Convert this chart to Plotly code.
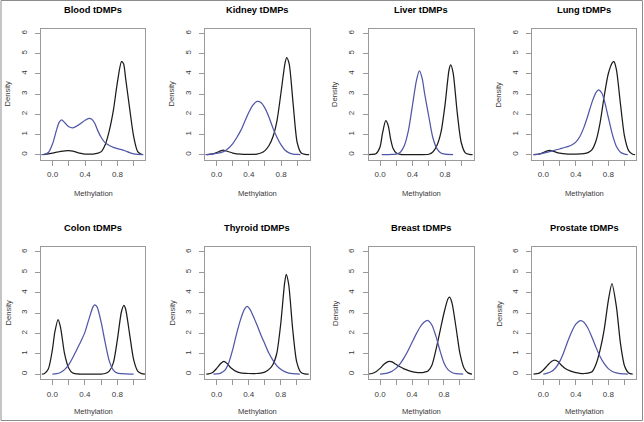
import plotly.graph_objects as go

W, H = 644, 422

panel_titles = ["Blood tDMPs", "Kidney tDMPs", "Liver tDMPs", "Lung tDMPs",
                "Colon tDMPs", "Thyroid tDMPs", "Breast tDMPs", "Prostate tDMPs"]
x_axis_title = "Methylation"
y_axis_title = "Density"
x_tick_vals = [0.0, 0.2, 0.4, 0.6, 0.8, 1.0]
x_tick_text = ["0.0", "", "0.4", "", "0.8", ""]
y_tick_vals = [0, 1, 2, 3, 4, 5, 6]
y_tick_text = ["0", "1", "2", "3", "4", "5", "6"]

# ---- Blood ----
blood_black_x = [-0.12, -0.08, -0.04, 0.0, 0.05, 0.10, 0.15, 0.20, 0.25, 0.30, 0.35, 0.40, 0.45, 0.50, 0.55, 0.60, 0.65, 0.70, 0.75, 0.80, 0.85, 0.875, 0.90, 0.95, 1.00, 1.05, 1.10]
blood_black_y = [0.0, 0.02, 0.05, 0.08, 0.12, 0.16, 0.19, 0.20, 0.17, 0.11, 0.06, 0.03, 0.03, 0.03, 0.06, 0.15, 0.50, 1.20, 2.20, 3.60, 4.60, 4.50, 3.80, 2.30, 0.90, 0.15, 0.01]
blood_blue_x = [-0.14, -0.10, -0.05, 0.0, 0.05, 0.08, 0.11, 0.15, 0.20, 0.25, 0.30, 0.35, 0.40, 0.45, 0.48, 0.52, 0.55, 0.60, 0.65, 0.70, 0.75, 0.80, 0.85, 0.90, 0.95, 1.00, 1.05, 1.12]
blood_blue_y = [0.0, 0.02, 0.12, 0.55, 1.25, 1.60, 1.72, 1.58, 1.38, 1.33, 1.42, 1.55, 1.70, 1.80, 1.76, 1.55, 1.25, 0.85, 0.58, 0.45, 0.36, 0.30, 0.25, 0.18, 0.10, 0.04, 0.01, 0.0]

# ---- Kidney ----
kidney_black_x = [-0.12, -0.05, 0.0, 0.05, 0.08, 0.12, 0.20, 0.30, 0.40, 0.50, 0.55, 0.60, 0.65, 0.70, 0.75, 0.80, 0.85, 0.87, 0.90, 0.95, 1.00, 1.05, 1.10, 1.15]
kidney_black_y = [0.0, 0.04, 0.10, 0.19, 0.22, 0.18, 0.08, 0.02, 0.01, 0.03, 0.08, 0.20, 0.45, 0.90, 1.70, 3.10, 4.55, 4.80, 4.50, 2.50, 0.60, 0.08, 0.01, 0.0]
kidney_blue_x = [-0.14, -0.05, 0.0, 0.05, 0.10, 0.15, 0.20, 0.25, 0.30, 0.35, 0.40, 0.45, 0.50, 0.55, 0.60, 0.65, 0.70, 0.75, 0.80, 0.85, 0.90, 0.95, 1.00, 1.04]
kidney_blue_y = [0.0, 0.03, 0.06, 0.10, 0.18, 0.33, 0.55, 0.85, 1.20, 1.65, 2.10, 2.45, 2.63, 2.58, 2.30, 1.85, 1.30, 0.85, 0.48, 0.22, 0.09, 0.03, 0.01, 0.0]

# ---- Liver ----
liver_black_x = [-0.14, -0.10, -0.05, 0.0, 0.03, 0.07, 0.10, 0.13, 0.16, 0.20, 0.25, 0.30, 0.40, 0.50, 0.60, 0.65, 0.70, 0.75, 0.80, 0.85, 0.87, 0.90, 0.95, 1.00, 1.05, 1.10, 1.14]
liver_black_y = [0.0, 0.01, 0.05, 0.38, 1.05, 1.68, 1.45, 0.78, 0.32, 0.08, 0.01, 0.0, 0.0, 0.0, 0.02, 0.13, 0.45, 1.10, 2.45, 4.20, 4.44, 4.05, 2.10, 0.60, 0.09, 0.01, 0.0]
liver_blue_x = [0.02, 0.10, 0.15, 0.20, 0.25, 0.30, 0.35, 0.40, 0.45, 0.485, 0.52, 0.55, 0.60, 0.65, 0.70, 0.75, 0.80, 0.90]
liver_blue_y = [0.0, 0.0, 0.01, 0.03, 0.12, 0.45, 1.20, 2.45, 3.70, 4.14, 3.75, 3.00, 1.90, 0.85, 0.30, 0.08, 0.02, 0.0]

# ---- Lung ----
lung_black_x = [-0.12, -0.05, 0.0, 0.05, 0.08, 0.12, 0.20, 0.30, 0.40, 0.50, 0.55, 0.60, 0.65, 0.70, 0.75, 0.80, 0.85, 0.87, 0.90, 0.95, 1.00, 1.05, 1.10, 1.13]
lung_black_y = [0.0, 0.03, 0.10, 0.19, 0.21, 0.17, 0.07, 0.03, 0.03, 0.05, 0.10, 0.25, 0.70, 1.60, 2.90, 4.00, 4.55, 4.60, 4.20, 2.50, 0.90, 0.20, 0.02, 0.0]
lung_blue_x = [-0.12, -0.05, 0.0, 0.05, 0.10, 0.15, 0.20, 0.25, 0.30, 0.35, 0.40, 0.45, 0.50, 0.55, 0.60, 0.65, 0.68, 0.72, 0.75, 0.80, 0.85, 0.90, 0.95, 1.00, 1.04]
lung_blue_y = [0.0, 0.03, 0.07, 0.12, 0.17, 0.23, 0.28, 0.34, 0.40, 0.48, 0.62, 0.90, 1.35, 1.95, 2.60, 3.08, 3.20, 3.05, 2.70, 1.85, 1.00, 0.40, 0.12, 0.03, 0.0]

# ---- Colon ----
colon_black_x = [-0.13, -0.10, -0.05, 0.0, 0.03, 0.07, 0.10, 0.15, 0.20, 0.25, 0.30, 0.40, 0.50, 0.60, 0.65, 0.70, 0.75, 0.80, 0.85, 0.88, 0.90, 0.95, 1.00, 1.05, 1.10, 1.14]
colon_black_y = [0.0, 0.02, 0.25, 1.19, 2.06, 2.68, 2.31, 1.00, 0.30, 0.05, 0.01, 0.0, 0.0, 0.0, 0.03, 0.15, 0.55, 1.69, 3.06, 3.37, 3.22, 1.98, 0.71, 0.15, 0.02, 0.0]
colon_blue_x = [0.0, 0.05, 0.10, 0.15, 0.20, 0.25, 0.30, 0.35, 0.40, 0.45, 0.50, 0.52, 0.55, 0.60, 0.65, 0.70, 0.75, 0.80, 0.85, 0.90, 1.00]
colon_blue_y = [0.0, 0.02, 0.08, 0.22, 0.45, 0.80, 1.20, 1.60, 2.05, 2.70, 3.30, 3.40, 3.30, 2.55, 1.55, 0.65, 0.20, 0.05, 0.02, 0.01, 0.0]

# ---- Thyroid ----
thyroid_black_x = [-0.13, -0.10, -0.05, 0.0, 0.05, 0.09, 0.13, 0.18, 0.25, 0.30, 0.40, 0.50, 0.55, 0.60, 0.65, 0.70, 0.75, 0.80, 0.85, 0.87, 0.90, 0.95, 1.00, 1.05, 1.10, 1.15]
thyroid_black_y = [0.0, 0.01, 0.08, 0.28, 0.52, 0.63, 0.52, 0.30, 0.12, 0.06, 0.03, 0.03, 0.05, 0.10, 0.22, 0.45, 1.00, 2.45, 4.50, 4.90, 4.40, 2.20, 0.60, 0.10, 0.01, 0.0]
thyroid_blue_x = [-0.04, 0.0, 0.05, 0.10, 0.15, 0.20, 0.25, 0.30, 0.35, 0.38, 0.42, 0.45, 0.50, 0.55, 0.60, 0.65, 0.70, 0.75, 0.80, 0.85, 0.90, 0.95, 1.00, 1.04]
thyroid_blue_y = [0.0, 0.01, 0.05, 0.18, 0.55, 1.20, 2.00, 2.70, 3.20, 3.32, 3.15, 2.90, 2.45, 1.95, 1.50, 1.05, 0.70, 0.42, 0.24, 0.12, 0.05, 0.02, 0.01, 0.0]

# ---- Breast ----
breast_black_x = [-0.15, -0.10, -0.05, 0.0, 0.05, 0.10, 0.125, 0.15, 0.20, 0.25, 0.30, 0.35, 0.40, 0.45, 0.50, 0.55, 0.60, 0.65, 0.70, 0.75, 0.80, 0.85, 0.87, 0.90, 0.95, 1.00, 1.05, 1.10, 1.15]
breast_black_y = [0.0, 0.03, 0.12, 0.28, 0.48, 0.61, 0.63, 0.60, 0.48, 0.36, 0.26, 0.18, 0.12, 0.08, 0.07, 0.09, 0.15, 0.45, 1.20, 2.10, 3.00, 3.70, 3.78, 3.50, 2.30, 1.00, 0.30, 0.06, 0.0]
breast_blue_x = [0.0, 0.05, 0.10, 0.15, 0.20, 0.25, 0.30, 0.35, 0.40, 0.45, 0.50, 0.55, 0.60, 0.65, 0.70, 0.75, 0.80, 0.85, 0.90, 0.95, 1.00, 1.04]
breast_blue_y = [0.0, 0.02, 0.06, 0.14, 0.28, 0.50, 0.80, 1.15, 1.55, 1.95, 2.30, 2.55, 2.63, 2.40, 1.85, 1.15, 0.55, 0.22, 0.08, 0.02, 0.01, 0.0]

# ---- Prostate ----
prostate_black_x = [-0.12, -0.05, 0.0, 0.05, 0.10, 0.14, 0.18, 0.22, 0.27, 0.33, 0.40, 0.45, 0.50, 0.55, 0.60, 0.65, 0.70, 0.75, 0.80, 0.845, 0.90, 0.95, 1.00, 1.05, 1.10]
prostate_black_y = [0.0, 0.05, 0.20, 0.42, 0.62, 0.69, 0.62, 0.45, 0.28, 0.16, 0.07, 0.04, 0.03, 0.05, 0.12, 0.50, 1.20, 2.20, 3.60, 4.44, 3.30, 1.50, 0.40, 0.06, 0.0]
prostate_blue_x = [0.0, 0.05, 0.10, 0.15, 0.20, 0.25, 0.30, 0.35, 0.40, 0.46, 0.50, 0.55, 0.60, 0.65, 0.70, 0.75, 0.80, 0.85, 0.90, 0.95, 1.00, 1.04]
prostate_blue_y = [0.0, 0.05, 0.13, 0.30, 0.60, 1.05, 1.60, 2.08, 2.45, 2.63, 2.55, 2.25, 1.80, 1.30, 0.85, 0.51, 0.27, 0.13, 0.06, 0.02, 0.01, 0.0]

black_series = [(blood_black_x, blood_black_y), (kidney_black_x, kidney_black_y),
                (liver_black_x, liver_black_y), (lung_black_x, lung_black_y),
                (colon_black_x, colon_black_y), (thyroid_black_x, thyroid_black_y),
                (breast_black_x, breast_black_y), (prostate_black_x, prostate_black_y)]
blue_series = [(blood_blue_x, blood_blue_y), (kidney_blue_x, kidney_blue_y),
               (liver_blue_x, liver_blue_y), (lung_blue_x, lung_blue_y),
               (colon_blue_x, colon_blue_y), (thyroid_blue_x, thyroid_blue_y),
               (breast_blue_x, breast_blue_y), (prostate_blue_x, prostate_blue_y)]

# ---- layout (pixel geometry) ----
col_px = [(41, 145), (205, 309.5), (368.5, 473.5), (532, 636)]
row_px = [(28.5, 159.5), (247, 379)]
x_ranges = [(-0.144, 1.14), (-0.145, 1.153), (-0.142, 1.151), (-0.139, 1.141),
            (-0.14, 1.14), (-0.146, 1.16), (-0.144, 1.169), (-0.139, 1.141)]
y_range = (-0.24, 6.24)
title_y_px = [10.5, 228.5]
xlab_y_px = [193.3, 411.7]

FONT = "Liberation Sans, Arial, Helvetica, sans-serif"
BLACK = "#1c1c1c"
BLUE = "#5057a6"
BOXC = "#9a9a9a"
TXT = "#3a3a3a"

def px2x(p):
    return p / W

def px2y(p):
    return 1 - p / H

fig = go.Figure()
annotations = []
for i in range(8):
    r, c = divmod(i, 4)
    ax = "" if i == 0 else str(i + 1)
    bx, by = black_series[i]
    ux, uy = blue_series[i]
    fig.add_trace(go.Scatter(x=bx, y=by, mode="lines", xaxis="x" + ax, yaxis="y" + ax,
                             line=dict(color=BLACK, width=1.25, shape="spline", smoothing=0.7),
                             showlegend=False, hoverinfo="skip"))
    fig.add_trace(go.Scatter(x=ux, y=uy, mode="lines", xaxis="x" + ax, yaxis="y" + ax,
                             line=dict(color=BLUE, width=1.25, shape="spline", smoothing=0.7),
                             showlegend=False, hoverinfo="skip"))
    x0, x1 = col_px[c]
    y0, y1 = row_px[r]
    common = dict(showline=True, mirror=True, linecolor=BOXC, linewidth=1,
                  ticks="outside", ticklen=5, tickcolor=BOXC, tickwidth=1,
                  showgrid=False, zeroline=False,
                  tickfont=dict(family=FONT, size=8, color=TXT))
    fig.layout["xaxis" + ax] = dict(domain=[px2x(x0), px2x(x1)], range=list(x_ranges[i]),
                                    anchor="y" + ax, tickmode="array",
                                    tickvals=x_tick_vals, ticktext=x_tick_text,
                                    ticklabelstandoff=2, fixedrange=True, **common)
    fig.layout["yaxis" + ax] = dict(domain=[px2y(y1), px2y(y0)], range=list(y_range),
                                    anchor="x" + ax, tickmode="array",
                                    tickvals=y_tick_vals, ticktext=y_tick_text,
                                    tickangle=-90, ticklabelstandoff=5, fixedrange=True, **common)
    cx = (x0 + x1) / 2
    annotations.append(dict(text="<b>" + panel_titles[i] + "</b>", xref="paper", yref="paper",
                            x=px2x(cx), y=px2y(title_y_px[r]), xanchor="center", yanchor="middle",
                            showarrow=False, font=dict(family=FONT, size=9.3, color="#000")))
    annotations.append(dict(text=x_axis_title, xref="paper", yref="paper",
                            x=px2x(cx), y=px2y(xlab_y_px[r]), xanchor="center", yanchor="middle",
                            showarrow=False, font=dict(family=FONT, size=7.6, color=TXT)))
    annotations.append(dict(text=y_axis_title, xref="paper", yref="paper", textangle=-90,
                            x=px2x(x0 - 33.5), y=px2y((y0 + y1) / 2), xanchor="center", yanchor="middle",
                            showarrow=False, font=dict(family=FONT, size=7.6, color=TXT)))

fig.update_layout(
    width=W, height=H, margin=dict(l=0, r=0, t=0, b=0),
    paper_bgcolor="white", plot_bgcolor="white",
    annotations=annotations,
    shapes=[dict(type="rect", xref="paper", yref="paper",
                 x0=1 / W, x1=1 - 1.5 / W, y0=1.5 / H, y1=1 - 0.5 / H,
                 line=dict(color="#8c8c8c", width=1), fillcolor="rgba(0,0,0,0)", layer="above")],
)

fig.write_html("out.html", config={"displayModeBar": False, "staticPlot": True},
               post_script="document.body.style.margin='0';document.body.style.padding='0';")
